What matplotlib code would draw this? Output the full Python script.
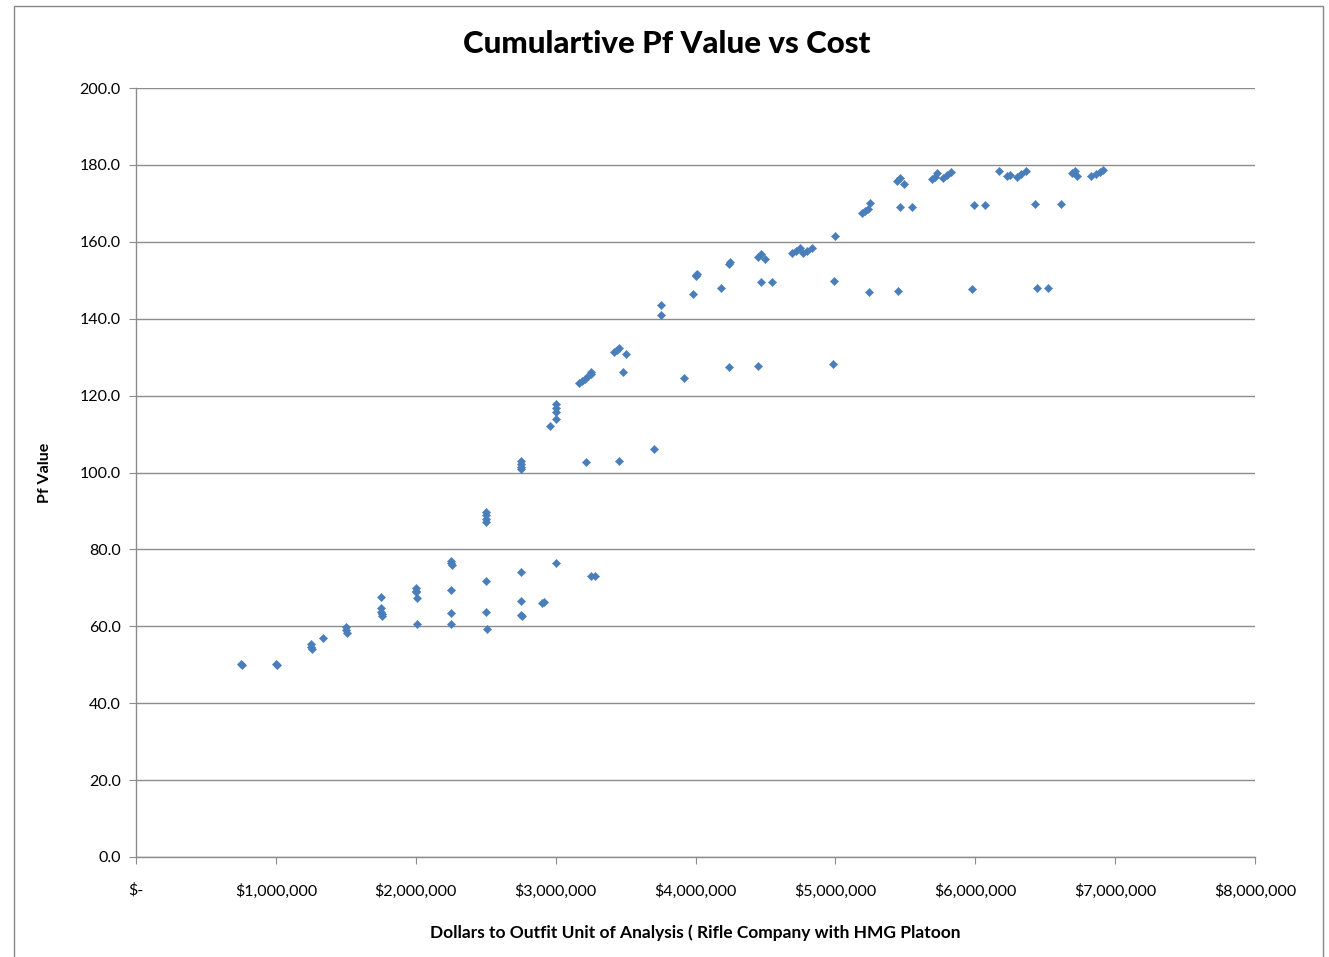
import matplotlib.pyplot as plt
from matplotlib.ticker import FuncFormatter
from matplotlib.patches import Rectangle

# cost in dollars, Pf value
cost = [
    750000, 760000, 1000000, 1010000,
    1250000, 1250000, 1260000, 1340000,
    1500000, 1500000, 1510000,
    1750000, 1750000, 1750000, 1760000, 1760000,
    2000000, 2000000, 2000000, 2010000, 2010000,
    2250000, 2250000, 2260000, 2250000, 2250000, 2250000,
    2500000, 2500000, 2500000, 2500000, 2500000, 2500000, 2510000,
    2750000, 2750000, 2750000, 2750000, 2750000, 2750000, 2750000, 2760000,
    2900000, 2920000,
    2960000, 3000000, 3000000, 3000000, 3000000, 3000000,
    3170000, 3190000, 3210000, 3230000, 3250000, 3250000, 3220000, 3250000, 3280000,
    3420000, 3440000, 3450000, 3500000, 3480000, 3450000,
    3700000, 3750000, 3750000,
    3920000, 3980000, 4000000, 4010000, 4000000,
    4180000, 4240000, 4250000, 4240000,
    4450000, 4470000, 4500000, 4470000, 4550000, 4450000,
    4690000, 4720000, 4750000, 4770000, 4800000, 4830000,
    5000000, 4990000, 4980000,
    5190000, 5210000, 5230000, 5250000, 5240000,
    5440000, 5460000, 5490000, 5460000, 5550000, 5450000,
    5690000, 5710000, 5730000, 5770000, 5800000, 5830000,
    5990000, 6070000, 5980000,
    6170000, 6230000, 6250000, 6300000, 6330000, 6360000,
    6430000, 6440000, 6520000,
    6610000, 6690000, 6710000, 6730000,
    6830000, 6860000, 6890000, 6910000,
]
pf = [
    50.2, 50.0, 50.3, 50.0,
    55.5, 54.5, 54.0, 57.0,
    59.7, 59.0, 58.3,
    67.6, 64.7, 63.8, 63.2, 62.6,
    70.0, 69.3, 68.8, 67.4, 60.6,
    77.0, 76.4, 75.9, 69.4, 63.5, 60.6,
    89.8, 89.0, 88.0, 87.2, 71.8, 63.7, 59.3,
    103.0, 102.3, 101.5, 100.8, 74.1, 66.6, 62.9, 62.7,
    66.0, 66.2,
    112.1, 113.9, 115.8, 116.8, 117.8, 76.5,
    123.2, 123.8, 124.4, 125.0, 125.6, 126.1, 102.7, 73.1, 73.0,
    131.4, 131.9, 132.3, 130.8, 126.1, 103.0,
    106.1, 143.5, 141.0,
    124.6, 146.3, 151.0, 151.6, 151.3,
    148.0, 154.1, 154.8, 127.4,
    156.0, 156.7, 155.5, 149.5, 149.5, 127.8,
    157.0, 157.6, 158.3, 157.1, 157.7, 158.3,
    161.5, 149.8, 128.2,
    167.5, 168.0, 168.6, 170.0, 147.0,
    175.8, 176.5, 175.0, 169.1, 169.1, 147.3,
    176.3, 176.9, 177.8, 176.6, 177.3, 178.1,
    169.6, 169.6, 147.8,
    178.3, 177.1, 177.4, 176.9, 177.6, 178.3,
    169.8, 148.0, 148.1,
    169.9, 177.8, 178.3, 177.2,
    177.1, 177.6, 178.2, 178.8,
]

title = "Cumulartive Pf Value vs Cost"
xlabel = "Dollars to Outfit Unit of Analysis ( Rifle Company with HMG Platoon"
ylabel = "Pf Value"

plt.rcParams['font.family'] = ['Lato', 'DejaVu Sans']

fig = plt.figure(figsize=(13.29, 9.57), dpi=100)
ax = fig.add_axes([136 / 1329, 100 / 957, 1119 / 1329, 769 / 957])

# outer chart border like the Excel chart area
fig.patches.append(Rectangle((14 / 1329, -0.01), 1309 / 1329, 1.0 - 6 / 957 + 0.01,
                             transform=fig.transFigure, fill=False,
                             edgecolor='#888888', linewidth=1.0))

ax.scatter(cost, pf, marker='D', s=18, color='#4A7EBB', edgecolors='#4A7EBB',
           linewidths=0.3, zorder=3)

ax.set_xlim(0, 8000000)
ax.set_ylim(0, 200)
ax.set_xticks(range(0, 8000001, 1000000))
ax.set_yticks(range(0, 201, 20))

def money(v, pos):
    if v == 0:
        return '$-'
    return '${:,.0f}'.format(v)

ax.xaxis.set_major_formatter(FuncFormatter(money))
ax.yaxis.set_major_formatter(FuncFormatter(lambda v, p: '{:.1f}'.format(v)))

ax.grid(axis='y', color='#8c8c8c', linewidth=1.0)
ax.set_axisbelow(True)
for side in ['top', 'right']:
    ax.spines[side].set_visible(False)
for side in ['left', 'bottom']:
    ax.spines[side].set_color('#8c8c8c')
    ax.spines[side].set_linewidth(1.0)

ax.tick_params(axis='x', length=5, color='#8c8c8c', pad=14, labelsize=11.5)
ax.tick_params(axis='y', length=5, color='#8c8c8c', pad=6, labelsize=11.5)

fig.text(0.502, 1 - 44 / 957, title, fontsize=22.5, fontweight='black',
         ha='center', va='center')
ax.set_xlabel(xlabel, fontsize=12.5, fontweight='bold', labelpad=19)
ax.set_ylabel(ylabel, fontsize=11.5, fontweight='bold', labelpad=20)

fig.savefig('out.png', dpi=100)
